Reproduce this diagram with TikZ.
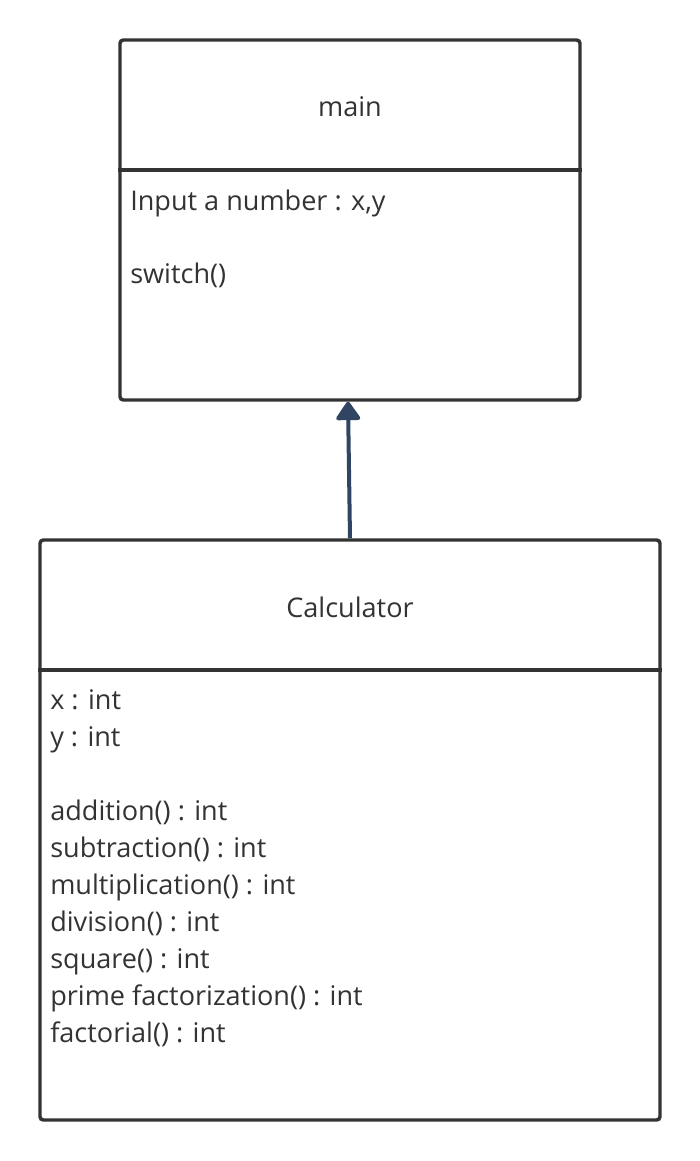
\documentclass[tikz,border=0pt]{standalone}
\usepackage{fontspec}
\setmainfont{Open Sans}
\usetikzlibrary{positioning,arrows.meta}
\definecolor{edgegray}{HTML}{333333}
\definecolor{arrblue}{HTML}{2F4562}
\definecolor{txtgray}{HTML}{333333}

\begin{document}
\begin{tikzpicture}[x=0.75pt, y=-0.75pt,
	cls/.style={draw=edgegray, line width=2.6pt, rounded corners=2.5pt, inner sep=0pt},
	ttl/.style={anchor=base, inner sep=0pt, text=txtgray, font=\fontsize{20.3}{24}\selectfont},
	itm/.style={anchor=base west, inner sep=0pt, text=txtgray, font=\fontsize{20.3}{24}\selectfont}]
	\useasboundingbox (0,0) rectangle (700,1161);
	\node[cls, minimum width=345pt, minimum height=270pt] (main) at (350,220) {};
	\node[cls, minimum width=465pt, minimum height=435pt] (calc) at (350,830) {};
	\draw[edgegray, line width=2.6pt] (main.west |- 0,170) -- (main.east |- 0,170);
	\draw[edgegray, line width=2.6pt] (calc.west |- 0,670) -- (calc.east |- 0,670);
	\node[ttl] (mainname) at (350,116) {main};
	\node[ttl] (calcname) at (350,617) {Calculator};
	\node[itm] (input) at (130,210) {Input a number : x,y};
	\node[itm] (switch) at (130,283) {switch()};
	\foreach \t [count=\i] in {x : int, y : int, {}, addition() : int, subtraction() : int,
		multiplication() : int, division() : int, square() : int,
		prime factorization() : int, factorial() : int}
		\node[itm] (attr\i) at (50,672+37*\i) {\t};
	\draw[-{Triangle[length=15pt, width=20pt, round]}, arrblue, line width=3pt]
		(calc.north) -- ([xshift=-1.5pt]main.south);
\end{tikzpicture}
\end{document}
